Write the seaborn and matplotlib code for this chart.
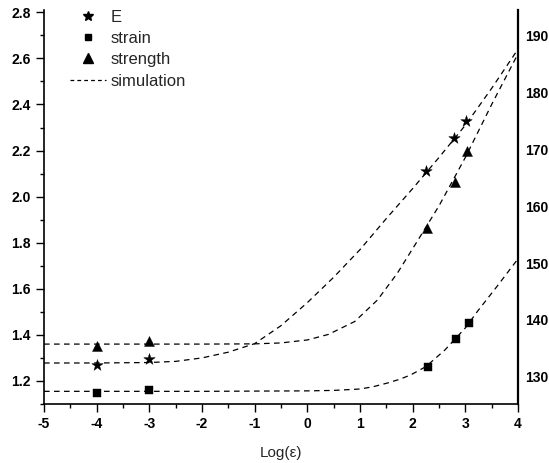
import matplotlib
matplotlib.use("Agg")
import matplotlib.pyplot as plt
import seaborn as sns
import pandas as pd
from matplotlib.lines import Line2D
from matplotlib.ticker import MultipleLocator

# ---- data ----
E_x = [-4, -3, 2.26, 2.79, 3.02]
E_y = [1.269, 1.295, 2.11, 2.254, 2.327]
strain_x = [-4, -3, 2.29, 2.83, 3.07]
strain_y = [1.148, 1.161, 1.261, 1.382, 1.452]
strength_x = [-4, -3, 2.27, 2.81, 3.04]
strength_y = [1.352, 1.373, 1.863, 2.063, 2.197]

simE_x = [-5, -4, -3, -2.5, -2, -1.5, -1, -0.5, 0, 0.5, 1.0, 1.5, 2.0, 2.5, 3.0, 3.5, 4.0]
simE_y = [1.278, 1.278, 1.280, 1.285, 1.300, 1.325, 1.362, 1.440, 1.540, 1.650, 1.770, 1.905, 2.035, 2.170, 2.310, 2.470, 2.640]
simStrength_x = [-5, -4, -3, -2, -1, -0.5, 0, 0.4, 0.9, 1.33, 1.71, 2.1, 2.5, 3.0, 3.5, 4.0]
simStrength_y = [1.360, 1.360, 1.360, 1.360, 1.361, 1.365, 1.378, 1.402, 1.458, 1.551, 1.668, 1.811, 1.960, 2.170, 2.400, 2.620]
simStrain_x = [-5, -4, -3, -2, -1, 0, 0.5, 1.0, 1.25, 1.52, 1.75, 1.96, 2.25, 2.61, 3.0, 3.24, 3.6, 4.0]
simStrain_y = [1.155, 1.155, 1.155, 1.155, 1.156, 1.157, 1.159, 1.165, 1.175, 1.191, 1.207, 1.226, 1.262, 1.334, 1.430, 1.505, 1.610, 1.730]

x_ticks = [-5, -4, -3, -2, -1, 0, 1, 2, 3, 4]
left_ticks = [1.2, 1.4, 1.6, 1.8, 2.0, 2.2, 2.4, 2.6, 2.8]
right_ticks = [130, 140, 150, 160, 170, 180, 190]
legend_labels = ["E", "strain", "strength", "simulation"]

sns.set_style("white")
plt.rcParams["font.family"] = ["Liberation Sans", "DejaVu Sans"]
plt.rcParams["axes.unicode_minus"] = False

pts = pd.concat([
    pd.DataFrame({"x": E_x, "y": E_y, "s": "E"}),
    pd.DataFrame({"x": strain_x, "y": strain_y, "s": "strain"}),
    pd.DataFrame({"x": strength_x, "y": strength_y, "s": "strength"}),
])
sim = pd.concat([
    pd.DataFrame({"x": simE_x, "y": simE_y, "s": "E"}),
    pd.DataFrame({"x": simStrength_x, "y": simStrength_y, "s": "strength"}),
    pd.DataFrame({"x": simStrain_x, "y": simStrain_y, "s": "strain"}),
])

fig = plt.figure(figsize=(5.49, 4.63), dpi=100)
ax = fig.add_axes([44 / 549, 59 / 463, 474 / 549, 394 / 463])

for name, g in sim.groupby("s"):
    sns.lineplot(data=g, x="x", y="y", ax=ax, color="black", lw=0.9,
                 dashes=False, linestyle=(0, (4.5, 3.5)), legend=False,
                 sort=True, estimator=None)

markers = {"E": "*", "strain": "s", "strength": "^"}
sizes = {"E": 75, "strain": 34, "strength": 52}
for name, g in pts.groupby("s"):
    sns.scatterplot(data=g, x="x", y="y", ax=ax, color="black",
                    marker=markers[name], s=sizes[name], edgecolor="black",
                    linewidth=0.3, legend=False, zorder=3)

ax.set_xlim(-5, 4)
ax.set_ylim(1.1, 2.81)
ax.set_xticks(x_ticks)
ax.set_yticks(left_ticks)
ax.xaxis.set_minor_locator(MultipleLocator(0.5))
ax.yaxis.set_minor_locator(MultipleLocator(0.1))
ax.tick_params(axis="both", which="major", direction="out", length=6, width=1,
               labelsize=10, color="black", labelcolor="black")
ax.tick_params(axis="both", which="minor", direction="out", length=3, width=1,
               color="black")
ax.tick_params(left=True, bottom=True, which="both")
ax.set_yticklabels([f"{t:.1f}" for t in left_ticks])
for lab in ax.get_xticklabels() + ax.get_yticklabels():
    lab.set_fontweight("bold")
ax.set_xlabel("Log(ε)", fontsize=11, labelpad=11)
ax.set_ylabel("")
for side in ["left", "bottom", "right"]:
    ax.spines[side].set_color("black")
    ax.spines[side].set_linewidth(1.2)
ax.spines["top"].set_visible(False)

ax2 = ax.twinx()
ax2.set_ylim(125.2, 194.5)
ax2.set_yticks(right_ticks)
ax2.tick_params(axis="y", length=0, pad=5, labelsize=10, labelcolor="black")
for lab in ax2.get_yticklabels():
    lab.set_fontweight("bold")
ax2.spines["top"].set_visible(False)
ax2.spines["right"].set_color("black")
ax2.spines["right"].set_linewidth(1.6)
ax2.spines["left"].set_visible(False)
ax2.spines["bottom"].set_visible(False)
ax2.grid(False)

handles = [
    Line2D([], [], ls="none", marker="*", color="black", ms=7),
    Line2D([], [], ls="none", marker="s", color="black", ms=5),
    Line2D([], [], ls="none", marker="^", color="black", ms=6.5),
    Line2D([], [], color="black", lw=0.9, linestyle=(0, (3, 2.5))),
]
ax.legend(handles, legend_labels, loc="upper left", bbox_to_anchor=(0.055, 1.0),
          frameon=False, fontsize=12, handlelength=2.15, handletextpad=0.3,
          borderpad=0, borderaxespad=0, labelspacing=0.37)

fig.savefig("out.png", dpi=100)
